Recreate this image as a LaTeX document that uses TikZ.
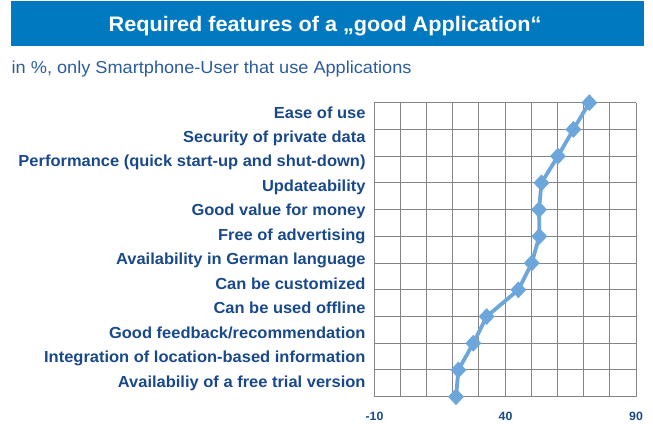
\documentclass[tikz,border=0pt]{standalone}
\usepackage{fontspec}
\setmainfont{Liberation Sans}
\newfontfamily\titlefont[FakeStretch=1.03]{Liberation Sans}
\newfontfamily\lblfont[FakeStretch=1.03]{Liberation Sans}
\newfontfamily\subfont[FakeStretch=1.05]{Liberation Sans}
\usetikzlibrary{shapes.geometric}
\definecolor{barblue}{HTML}{0079C1}
\definecolor{lblblue}{HTML}{19498A}
\definecolor{subblue}{HTML}{2B5C9C}
\definecolor{serblue}{HTML}{6CA6DA}
\definecolor{gridgray}{HTML}{858585}
\tikzset{
  lbl/.style={anchor=base east, inner sep=0pt, text=lblblue, font=\lblfont\bfseries\fontsize{16}{19}\selectfont},
  axlbl/.style={anchor=base, inner sep=0pt, text=lblblue, font=\lblfont\bfseries\fontsize{12}{14}\selectfont},
  dmd/.style={diamond, fill=serblue, inner sep=0pt, minimum width=16pt, minimum height=17pt},
  gridline/.style={draw=gridgray, line width=1pt},
  series/.style={draw=serblue, line width=3.8pt, line join=round}
}
\begin{document}
\begin{tikzpicture}[x=1pt,y=-1pt]
\useasboundingbox (0,0) rectangle (653,423);
% title bar
\fill[barblue] (11,1) rectangle (644,46);
\node[anchor=base, inner sep=0pt, text=white, font=\titlefont\bfseries\fontsize{21}{24}\selectfont] (title) at (325,31) {Required features of a „good Application“};
\node[anchor=base west, inner sep=0pt, text=subblue, font=\subfont\fontsize{17.3}{20}\selectfont] (sub) at (11.5,73.5) {in \%, only Smartphone-User that use Applications};
% grid
\foreach \k in {0,...,10} {
  \draw[gridline] ({374+26.2*\k},102.7) -- ({374+26.2*\k},396.7);
}
\foreach \i in {0,...,11} {
  \draw[gridline] (374,{102.7+26.727*\i}) -- (636,{102.7+26.727*\i});
}
% labels
\foreach \t [count=\i from 0] in {Ease of use, Security of private data, Performance (quick start-up and shut-down), Updateability, Good value for money, Free of advertising, Availability in German language, Can be customized, Can be used offline, Good feedback/recommendation, Integration of location-based information, Availabiliy of a free trial version} {
  \node[lbl] (l\i) at (365.7,{118+24.47*\i}) {\t};
}
% axis labels
\node[axlbl] (a1) at (374.5,420.5) {-10};
\node[axlbl] (a2) at (505.5,420.5) {40};
\node[axlbl] (a3) at (636,420.5) {90};
% data
\foreach \v [count=\i from 0] in {72.2,66.1,60.2,53.9,53,53.1,50.2,45.1,33,27.9,22.2,21.3} {
  \coordinate (c\i) at ({374+2.62*(\v+10)},{102.7+26.727*\i});
}
\draw[series] (c0) -- (c1) -- (c2) -- (c3) -- (c4) -- (c5) -- (c6) -- (c7) -- (c8) -- (c9) -- (c10) -- (c11);
\foreach \i in {0,...,11} {
  \node[dmd] (p\i) at (c\i) {};
}
\end{tikzpicture}
\end{document}
